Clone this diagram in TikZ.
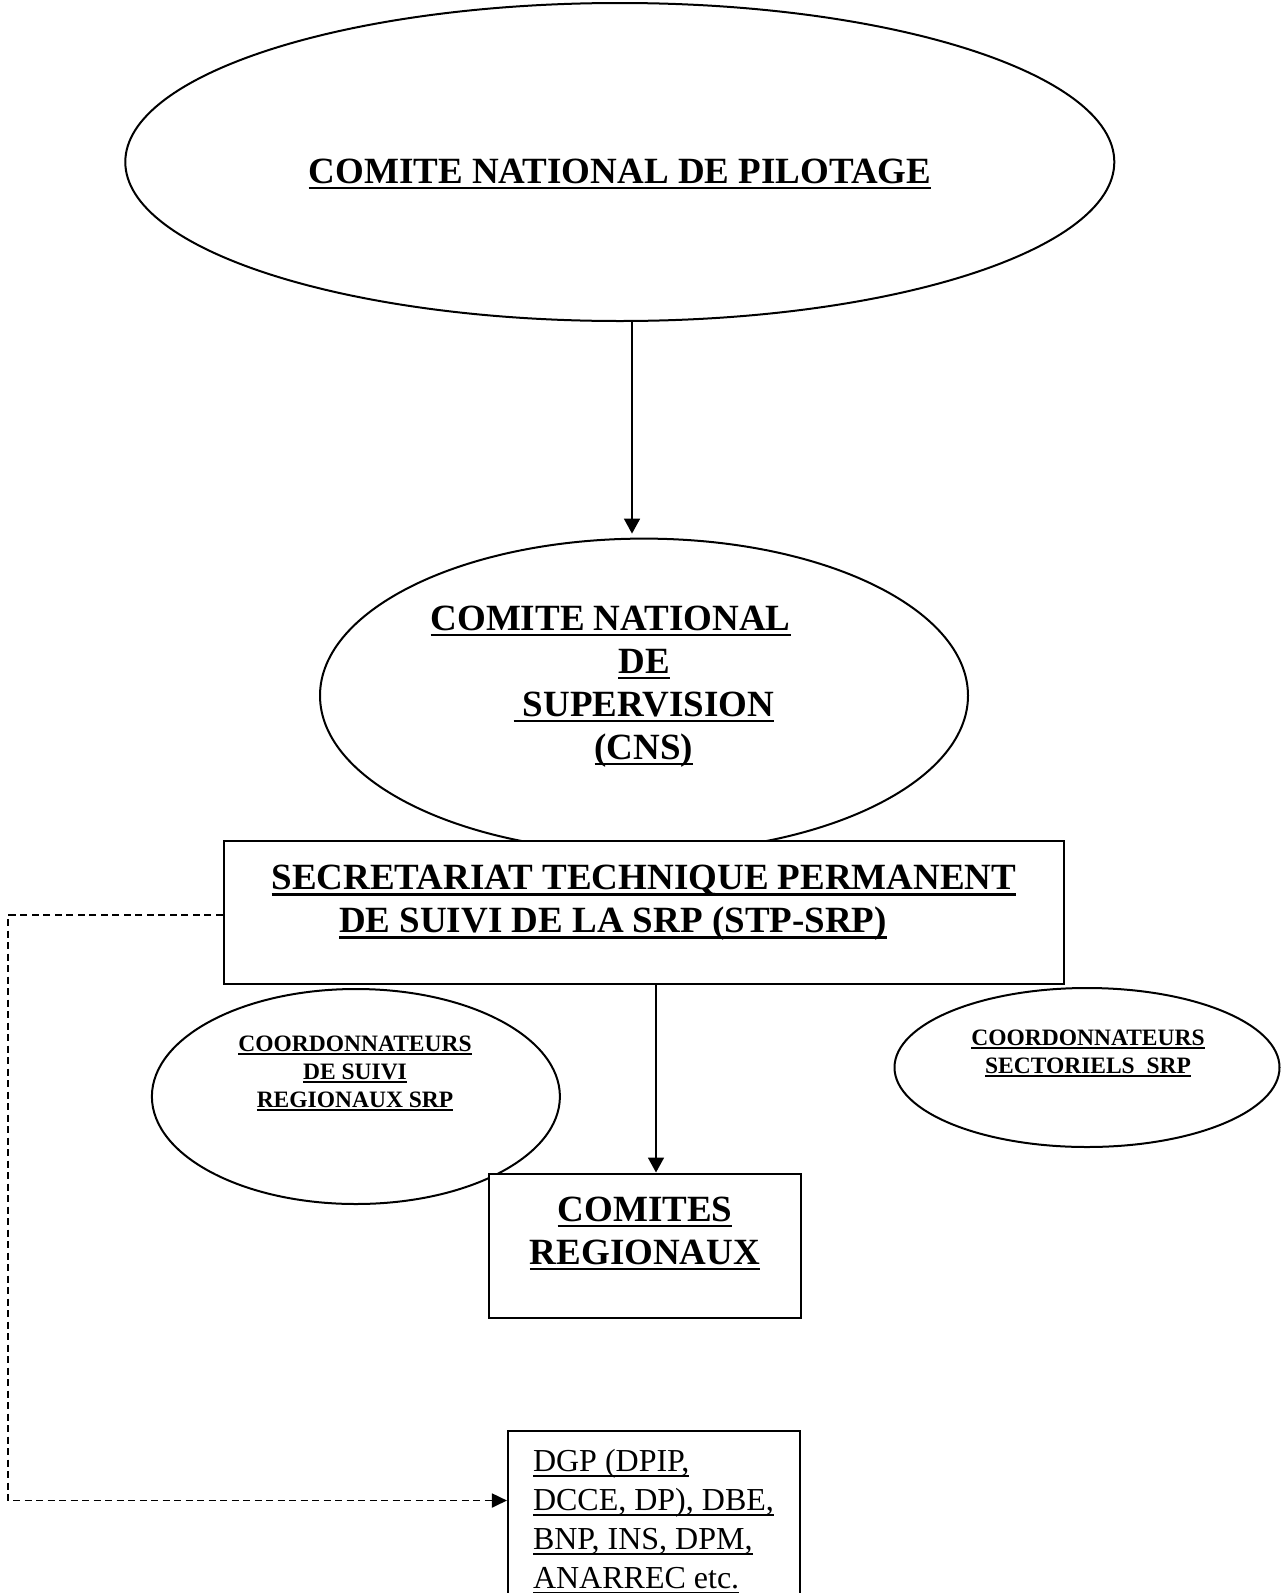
\documentclass[tikz,border=0pt]{standalone}
\usepackage{fontspec}
\setmainfont{Liberation Serif}
\usetikzlibrary{shapes.geometric,arrows.meta,calc}
\newsavebox\ulbox
\newcommand\ulb[1]{\sbox\ulbox{#1}\leavevmode\rlap{\vrule height -0.1em depth 0.175em width \wd\ulbox}\usebox\ulbox}
\newcommand\ulr[1]{\sbox\ulbox{#1}\leavevmode\rlap{\vrule height -0.1em depth 0.15em width \wd\ulbox}\usebox\ulbox}
\begin{document}
\begin{tikzpicture}[x=1pt,y=-1pt,
  line width=2pt,
  ell/.style={draw, ellipse, inner sep=0pt, fill=white},
  box/.style={draw, rectangle, inner sep=0pt, fill=white},
  big/.style={font=\fontsize{37}{43}\selectfont\bfseries, align=center, inner sep=0pt, anchor=base},
  small/.style={font=\fontsize{23.5}{28}\selectfont\bfseries, align=center, inner sep=0pt, anchor=base},
  plain/.style={font=\fontsize{32}{39}\selectfont, align=left, inner sep=0pt, anchor=base west},
  arr/.style={-{Triangle[length=15pt,width=16pt]}, line width=1.8pt},
  dashline/.style={dash pattern=on 7pt off 4.5pt, line width=1.8pt}
]
\useasboundingbox (0,0) rectangle (1281,1593);
\clip (0,0) rectangle (1281,1593);

% shapes
\node[ell, minimum width=989pt, minimum height=318pt] (cnp) at (619.8,162) {};
\node[ell, minimum width=648pt, minimum height=314pt] (cns) at (644,695.6) {};
\node[box, minimum width=840pt, minimum height=143pt] (stp) at (643.5,912.8) {};
\node[ell, minimum width=408pt, minimum height=215pt] (csr) at (355.9,1096.5) {};
\node[ell, minimum width=385pt, minimum height=159pt] (css) at (1087,1067.5) {};
\node[box, minimum width=312pt, minimum height=144pt] (com) at (644.5,1245.5) {};
\node[box, minimum width=292.5pt, minimum height=208pt] (dgp) at (654.2,1535.4) {};

% texts (anchor base = baseline of the last line)
\node[big] (cnpt) at (620,183) {\ulb{COMITE NATIONAL DE PILOTAGE}};
\node[big] (cnst) at (644,759) {\makebox[427pt][l]{\ulb{COMITE NATIONAL}}\\\ulb{DE}\\\ulb{\ SUPERVISION}\\\ulb{(CNS)}};
\node[big] (stpt) at (644,932.6) {\ulb{SECRETARIAT TECHNIQUE PERMANENT}\\\makebox[610pt][l]{\ulb{DE SUIVI DE LA SRP (STP-SRP)}}};
\node[small] (csrt) at (355,1107) {\ulb{COORDONNATEURS}\\\ulb{DE SUIVI}\\\ulb{REGIONAUX SRP}};
\node[small] (csst) at (1088,1073) {\ulb{COORDONNATEURS}\\\ulb{SECTORIELS\ \ SRP}};
\node[big] (comt) at (645,1264) {\ulb{COMITES}\\\ulb{REGIONAUX}};
\node[plain] (dgpt) at (532,1588.8) {\ulr{DGP (DPIP,}\\\ulr{DCCE, DP), DBE,}\\\ulr{BNP, INS, DPM,}\\\ulr{ANARREC etc.}};

% connectors
\coordinate (a1x) at (632,0);
\coordinate (a2x) at (656,0);
\coordinate (c1) at (8,915);
\coordinate (c2) at (8,1500.5);
\draw[arr, shorten >=4pt] (cnp.south -| a1x) -- (cns.north -| a1x);
\draw[arr] (stp.south -| a2x) -- (com.north -| a2x);
\draw[dashline, -{Triangle[length=15pt,width=14pt]}] (c1 -| stp.west) -- (c1) -- (c2) -- (c2 -| dgp.west);
\end{tikzpicture}
\end{document}
